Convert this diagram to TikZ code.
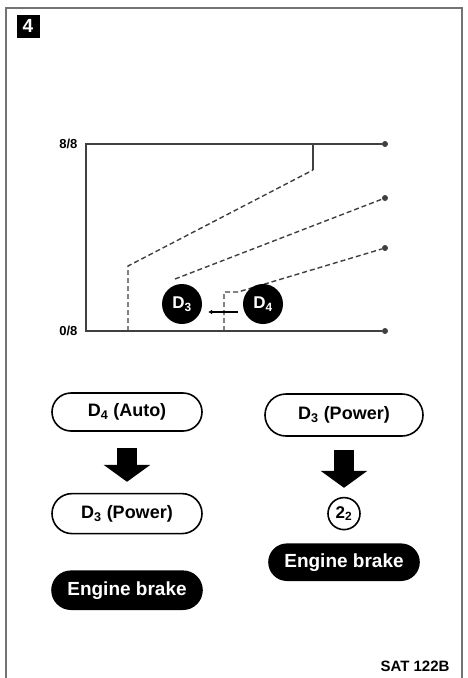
\documentclass[tikz,border=0pt]{standalone}
\usepackage{fontspec}
\setmainfont{Liberation Sans}
\usetikzlibrary{arrows.meta,positioning}
\tikzset{
  >={Latex[length=2.2mm]},
  pill/.style={draw=black,line width=1.6pt,rounded corners=19pt,align=center,
    minimum width=150pt,minimum height=38pt,inner sep=0pt,
    font=\fontsize{18}{20}\selectfont\bfseries},
  darkpill/.style={pill,fill=black,text=white,font=\fontsize{19}{20}\selectfont\bfseries},
  gearball/.style={circle,fill=black,text=white,minimum size=40pt,inner sep=0pt,
    font=\fontsize{17}{18}\selectfont\bfseries},
  gearring/.style={circle,draw=black,line width=1.6pt,minimum size=32pt,inner sep=0pt,
    font=\fontsize{17}{18}\selectfont\bfseries},
  bigarrow/.style={line width=20pt,-{Triangle[length=17pt,width=46pt]}},
  axisline/.style={line width=2pt,draw=black!75},
  schedline/.style={line width=1.4pt,draw=black!75,dash pattern=on 5pt off 3pt},
  enddot/.style={circle,fill=black!75,minimum size=6pt,inner sep=0pt},
  ticklabel/.style={anchor=east,font=\fontsize{13}{13}\selectfont\bfseries}
}

\begin{document}
\begin{tikzpicture}[x=1pt,y=-1pt]
  \useasboundingbox (0,0) rectangle (467,678);
  % frame and figure number
  \draw[line width=2pt,draw=black!55] (6,678) -- (6,8) -- (462,8) -- (462,678);
  \node[fill=black,text=white,minimum size=23pt,inner sep=0pt,
    font=\fontsize{19}{19}\selectfont\bfseries] (fignum) at (28,26) {4};

  % shift chart
  \node[enddot] (e1) at (385,144) {};
  \node[enddot] (e2) at (385,198) {};
  \node[enddot] (e3) at (385,248) {};
  \node[enddot] (e4) at (385,331) {};
  \draw[axisline] (e1) -- (86,144) -- (86,331) -- (e4);
  \node[ticklabel] (full) at (81,144) {8/8};
  \node[ticklabel] (zero) at (81,331) {0/8};
  \draw[schedline] (128,331) -- (128,266) -- (313,170);
  \draw[line width=1.4pt,draw=black!75] (313,170) -- (313,144);
  \draw[schedline] (175,279) -- (e2);
  \draw[schedline] (224,331) -- (224,292) -- (238,292) -- (e3);
  \node[gearball] (d3) at (182,304) {D\textsubscript{3}};
  \node[gearball] (d4) at (263,304) {D\textsubscript{4}};
  \draw[line width=2pt,-{Latex[length=4pt,width=5pt]},shorten <=5pt,shorten >=6pt]
    ([yshift=-8pt]d4.west) -- ([yshift=-8pt]d3.east);

  % left column
  \node[pill] (auto) at (127,412) {D\textsubscript{4} (Auto)};
  \node[pill,below=61pt of auto,minimum height=40pt,rounded corners=20pt] (powL) {D\textsubscript{3} (Power)};
  \node[darkpill,below=36pt of powL] (brakeL) {Engine brake};
  \draw[bigarrow] ([yshift=-16pt]auto.south) -- ([yshift=11pt]powL.north);

  % right column
  \node[pill,minimum width=158pt,minimum height=42pt,rounded corners=21pt] (powR) at (344,415) {D\textsubscript{3} (Power)};
  \node[gearring,below=60pt of powR] (gear2) {2\textsubscript{2}};
  \node[darkpill,below=13pt of gear2,minimum height=36pt,rounded corners=18pt] (brakeR) {Engine brake};
  \draw[bigarrow] ([yshift=-13pt]powR.south) -- ([yshift=9pt]gear2.north);

  \node[anchor=east,font=\fontsize{15}{15}\selectfont\bfseries] (code) at (453,666) {SAT 122B};
\end{tikzpicture}
\end{document}
